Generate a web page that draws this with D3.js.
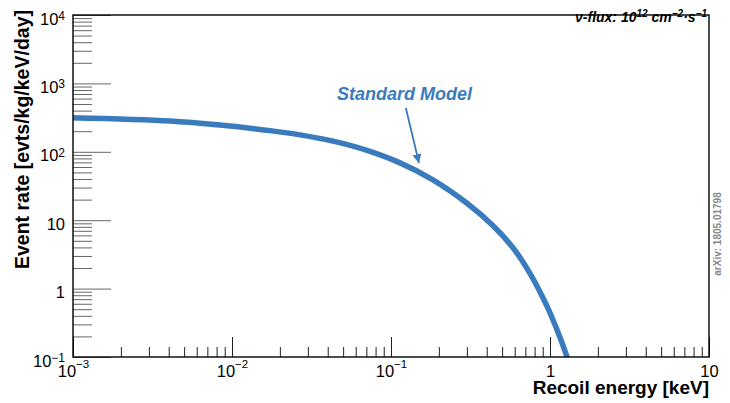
<!DOCTYPE html>
<html>
<head>
<meta charset="utf-8">
<script src="https://cdn.jsdelivr.net/npm/d3@7"></script>
<style>
  body { margin: 0; background: #fff; }
  svg { display: block; font-family: "Liberation Sans", Arial, Helvetica, sans-serif; }
</style>
</head>
<body>
<div id="chart"></div>
<script>
// values
const energy = [0.001, 0.00407, 0.0084, 0.01734, 0.0268, 0.0432, 0.0706, 0.114, 0.1835, 0.3006, 0.4385, 0.585, 0.748, 0.957, 1.156, 1.28, 1.374];
const rate   = [315, 282, 246, 204, 177, 143, 105, 68.9, 38.9, 17.7, 8.3, 3.96, 1.67, 0.553, 0.193, 0.1, 0.061];

const xMajor = [1e-3, 1e-2, 1e-1, 1, 10];
const xLabels = [["10", "−3"], ["10", "−2"], ["10", "−1"], ["1", ""], ["10", ""]];
const yMajor = [0.1, 1, 10, 100, 1000, 10000];
const yLabels = [["10", "−1"], ["1", ""], ["10", ""], ["10", "2"], ["10", "3"], ["10", "4"]];

const seriesName = "Standard Model";
const labelPos = [0.0457, 571];                 // text anchor (keV, rate)
const arrowFrom = [0.124, 437], arrowTo = [0.150, 68.5];

const blue = "#3a7bbd";

const W = 730, H = 403;
const margin = { top: 15, right: 21, bottom: 46, left: 73 },
      width = W - margin.left - margin.right,
      height = H - margin.top - margin.bottom;

const root = d3.select("#chart").append("svg")
  .attr("width", W)
  .attr("height", H);

const svg = root.append("g")
  .attr("transform", `translate(${margin.left},${margin.top})`);

const x = d3.scaleLog().domain([1e-3, 10]).range([0, width]);
const y = d3.scaleLog().domain([0.1, 1e4]).range([height, 0]);

const minorX = x.ticks().filter(v => !xMajor.some(m => Math.abs(m - v) / m < 1e-6));
const minorY = y.ticks().filter(v => !yMajor.some(m => Math.abs(m - v) / m < 1e-6));

// x axis: ticks pointing inwards
const xMinorAxis = svg.append("g")
  .attr("transform", `translate(0,${height})`)
  .call(d3.axisBottom(x).tickValues(minorX).tickSizeInner(-10).tickSizeOuter(0).tickFormat(""));
const xMajorAxis = svg.append("g")
  .attr("transform", `translate(0,${height})`)
  .call(d3.axisBottom(x).tickValues(xMajor).tickSizeInner(-20).tickSizeOuter(0).tickFormat(""));
[xMinorAxis, xMajorAxis].forEach(g => {
  g.select(".domain").remove();
  g.selectAll("line").attr("stroke", "#222");
});

const yMinorAxis = svg.append("g")
  .call(d3.axisLeft(y).tickValues(minorY).tickSizeInner(-19).tickSizeOuter(0).tickFormat(""));
const yMajorAxis = svg.append("g")
  .call(d3.axisLeft(y).tickValues(yMajor).tickSizeInner(-38).tickSizeOuter(0).tickFormat(""));
[yMinorAxis, yMajorAxis].forEach(g => {
  g.select(".domain").remove();
  g.selectAll("line").attr("stroke", "#666");
});

// tick labels with superscripts
function powerLabel(text, parts, baseSize, supSize, rise) {
  text.text(null).attr("dy", null).attr("fill", "#000");
  text.append("tspan").attr("font-size", baseSize).text(parts[0]);
  if (parts[1]) {
    text.append("tspan").attr("font-size", supSize).attr("dy", -rise).text(parts[1]);
  }
}

xMajorAxis.selectAll(".tick text")
  .attr("y", 20)
  .attr("text-anchor", "middle")
  .each(function (d, i) { powerLabel(d3.select(this), xLabels[i], 16.5, 11.5, 9.5); });

yMajorAxis.selectAll(".tick text")
  .attr("x", -8)
  .attr("y", 9)
  .attr("text-anchor", "end")
  .each(function (d, i) { powerLabel(d3.select(this), yLabels[i], 16.5, 12, 4.5); });

// curve
svg.append("clipPath").attr("id", "plot-clip")
  .append("rect").attr("width", width).attr("height", height);

const pts = energy.map((e, i) => [e, rate[i]]);
const line = d3.line()
  .x(d => x(d[0]))
  .y(d => y(d[1]))
  .curve(d3.curveCatmullRom.alpha(0.5));

svg.append("path")
  .datum(pts)
  .attr("clip-path", "url(#plot-clip)")
  .attr("fill", "none")
  .attr("stroke", blue)
  .attr("stroke-width", 5.5)
  .attr("d", line);

// frame
svg.append("rect")
  .attr("width", width)
  .attr("height", height)
  .attr("fill", "none")
  .attr("stroke", "#000")
  .attr("stroke-width", 1.4);

// annotation label + arrow
svg.append("text")
  .attr("x", x(labelPos[0]))
  .attr("y", y(labelPos[1]))
  .attr("fill", blue)
  .attr("font-size", 18)
  .attr("font-weight", "bold")
  .attr("font-style", "italic")
  .text(seriesName);

root.append("defs").append("marker")
  .attr("id", "arrowhead")
  .attr("viewBox", "0 0 10 10")
  .attr("refX", 10).attr("refY", 5)
  .attr("markerWidth", 5).attr("markerHeight", 5)
  .attr("markerUnits", "strokeWidth")
  .attr("orient", "auto")
  .append("path")
  .attr("d", "M0,0 L10,5 L0,10 Z")
  .attr("fill", blue);

svg.append("line")
  .attr("x1", x(arrowFrom[0])).attr("y1", y(arrowFrom[1]))
  .attr("x2", x(arrowTo[0])).attr("y2", y(arrowTo[1]))
  .attr("stroke", blue)
  .attr("stroke-width", 1.8)
  .attr("marker-end", "url(#arrowhead)");

// flux note, top right
const flux = svg.append("text")
  .attr("x", width - 2)
  .attr("y", 7)
  .attr("text-anchor", "end")
  .attr("font-size", 14)
  .attr("font-weight", "bold")
  .attr("font-style", "italic");
flux.append("tspan").text("ν-flux: 10");
flux.append("tspan").attr("font-size", 10).attr("dy", -5).text("12");
flux.append("tspan").attr("dy", 5).text(" cm");
flux.append("tspan").attr("font-size", 10).attr("dy", -5).text("−2");
flux.append("tspan").attr("dy", 5).text("·s");
flux.append("tspan").attr("font-size", 10).attr("dy", -5).text("−1");

// axis titles
svg.append("text")
  .attr("x", width)
  .attr("y", height + 37)
  .attr("text-anchor", "end")
  .attr("font-size", 19)
  .attr("font-weight", "bold")
  .text("Recoil energy [keV]");

svg.append("text")
  .attr("transform", `translate(${29 - margin.left},${-5}) rotate(-90)`)
  .attr("text-anchor", "end")
  .attr("font-size", 19.5)
  .attr("font-weight", "bold")
  .text("Event rate [evts/kg/keV/day]");

// arXiv stamp
root.append("text")
  .attr("transform", "translate(721,234) rotate(-90)")
  .attr("text-anchor", "middle")
  .attr("font-size", 10)
  .attr("font-weight", "bold")
  .attr("fill", "#888")
  .text("arXiv: 1805.01798");
</script>
</body>
</html>
